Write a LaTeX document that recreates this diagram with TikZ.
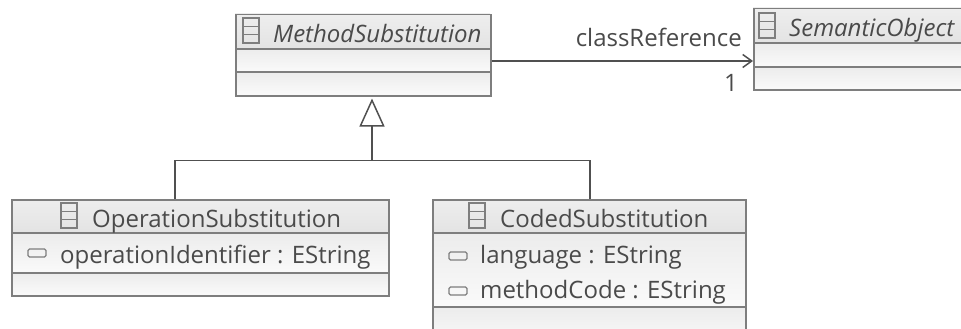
\documentclass[tikz,border=0pt]{standalone}
\usepackage{fontspec}
\setmainfont{Open Sans}
\usetikzlibrary{arrows.meta,calc}
\definecolor{bordercol}{HTML}{7E7E7E}
\definecolor{txtcol}{HTML}{4A4A4A}
\definecolor{linecol}{HTML}{505050}
\definecolor{hdrtop}{HTML}{EEEEEE}
\definecolor{hdrbot}{HTML}{E3E3E3}
\definecolor{cmptop}{HTML}{ECECEC}
\definecolor{cmpbot}{HTML}{FAFAFA}
\definecolor{shadowcol}{HTML}{D0D0D0}
\newcommand\myclass[7]{%
  \fill[shadowcol] ({#2+2},{#4+2}) rectangle ({#3+2},{#7+2});
  \shade[top color=hdrtop,bottom color=hdrbot] (#2,#4) rectangle (#3,#5);
  \shade[top color=cmptop,bottom color=cmpbot] (#2,#5) rectangle (#3,#6);
  \shade[top color=cmptop,bottom color=cmpbot] (#2,#6) rectangle (#3,#7);
  \draw[bordercol,line width=1.5] (#2,#5) -- (#3,#5) (#2,#6) -- (#3,#6);
  \node[draw=bordercol,line width=1.5,inner sep=0pt,anchor=north west,
        minimum width={(#3-#2)*1pt},minimum height={(#7-#4)*1pt}] (#1) at (#2,#4) {};
}
\newcommand\clsicon[2]{%
  \draw[bordercol,line width=1.3] (#1,#2) rectangle ({#1+16},{#2+25})
     (#1,{#2+8.3}) -- ({#1+16},{#2+8.3}) (#1,{#2+16.7}) -- ({#1+16},{#2+16.7});
}
\newcommand\attricon[2]{%
  \draw[bordercol,line width=1.3,rounded corners=1.5] (#1,{#2-4}) rectangle ({#1+18},{#2+4});
}
\begin{document}
\begin{tikzpicture}[x=1pt,y=-1pt,
  lbl/.style={font=\fontsize{24}{28}\selectfont,text=txtcol,inner sep=0pt},
  ilbl/.style={lbl,font=\fontsize{24}{28}\selectfont\itshape},
  conn/.style={draw=linecol,line width=1.5}]
\useasboundingbox (0,0) rectangle (961,329);
\begin{scope}
\clip (0,0) rectangle (961,329);
% classes
\myclass{ms}{235}{490}{14}{49}{72}{95}
\myclass{so}{753}{990}{8}{43}{67}{89}
\myclass{os}{11}{388}{199}{233}{273}{295}
\myclass{cs}{432}{745}{199}{233}{307}{345}
% icons
\clsicon{243}{18}
\clsicon{759}{13}
\clsicon{61}{203}
\clsicon{469}{203}
\attricon{28}{253}
\attricon{449}{256}
\attricon{449}{291}
% texts
\node[ilbl,anchor=base west] (msname) at (273,43) {MethodSubstitution};
\node[ilbl,anchor=base west] (soname) at (789,37) {SemanticObject};
\end{scope}
\node[lbl,anchor=base west] (osname) at (92,227) {OperationSubstitution};
\node[lbl,anchor=base west] (osattr) at (60,263) {operationIdentifier : EString};
\node[lbl,anchor=base west] (csname) at (500,227) {CodedSubstitution};
\node[lbl,anchor=base west] (csattr1) at (480,263) {language : EString};
\node[lbl,anchor=base west] (csattr2) at (480,298) {methodCode : EString};
% association
\draw[conn,-{Straight Barb[length=9pt,width=13pt,line width=1.5pt]}]
  ($(ms.north east)+(0,47)$) -- ($(so.north west)+(0,53)$);
\node[lbl,anchor=base east] (role) at ($(so.north west)+(-11,39)$) {classReference};
\node[lbl,anchor=base east] (mult) at ($(so.north west)+(-15,84)$) {1};
% generalization
\draw[conn,-{Triangle[open,length=28pt,width=25pt,line width=1.5pt]}]
  ($(os.north west)+(164,0)$) |- ($(ms.south west)+(137,64)$) -- ($(ms.south west)+(137,2)$);
\draw[conn] ($(cs.north west)+(158,0)$) |- ($(ms.south west)+(137,64)$);
\end{tikzpicture}
\end{document}
